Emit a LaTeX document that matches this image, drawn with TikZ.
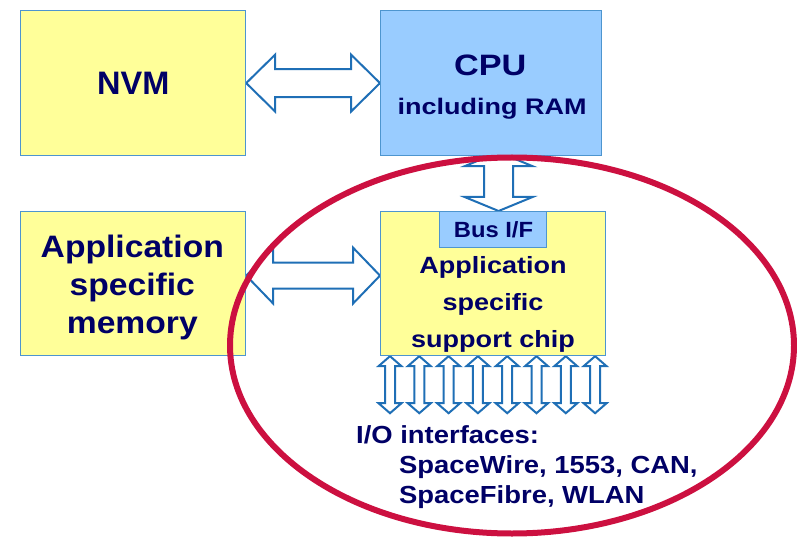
\documentclass[tikz,border=0pt]{standalone}
\usepackage{fontspec}
\setmainfont{Liberation Sans}
\usetikzlibrary{calc,backgrounds}

\definecolor{boxyellow}{HTML}{FFFF99}
\definecolor{boxblue}{HTML}{99CCFF}
\definecolor{edgeblue}{HTML}{4D95CF}
\definecolor{arrowblue}{HTML}{1F6FB6}
\definecolor{ringred}{HTML}{CC1040}
\definecolor{ink}{HTML}{000066}

% bold label font: size, line distance, horizontal stretch
\newcommand\lblfont[3]{\bfseries\fontsize{#1bp}{#2bp}\selectfont\addfontfeatures{FakeStretch=#3}}

% outlined horizontal double arrow: left tip, right tip, shaft half width, head half width, head length
\newcommand\fatH[5]{%
  \draw[fatarrow] (#1) -- ($(#1)+(#5,-#4)$) -- ($(#1)+(#5,-#3)$) -- ($(#2)+(-#5,-#3)$)
    -- ($(#2)+(-#5,-#4)$) -- (#2) -- ($(#2)+(-#5,#4)$) -- ($(#2)+(-#5,#3)$)
    -- ($(#1)+(#5,#3)$) -- ($(#1)+(#5,#4)$) -- cycle;}
% outlined vertical double arrow: top tip, bottom tip, shaft half width, head half width, head length
\newcommand\fatV[5]{%
  \draw[fatarrow] (#1) -- ($(#1)+(-#4,#5)$) -- ($(#1)+(-#3,#5)$) -- ($(#2)+(-#3,-#5)$)
    -- ($(#2)+(-#4,-#5)$) -- (#2) -- ($(#2)+(#4,-#5)$) -- ($(#2)+(#3,-#5)$)
    -- ($(#1)+(#3,#5)$) -- ($(#1)+(#4,#5)$) -- cycle;}

\begin{document}
\begin{tikzpicture}[x=1bp,y=-1bp,
  block/.style={draw=edgeblue,line width=1.2bp,inner sep=0pt,anchor=north west},
  words/.style={text=ink,inner sep=0pt,align=center,anchor=base},
  fatarrow/.style={draw=arrowblue,fill=white,line width=2bp,line join=miter,miter limit=10}]
\useasboundingbox (0,0) rectangle (797,541);

% blocks
\node[block,fill=boxyellow,minimum width=225bp,minimum height=145bp] (nvm) at (20,10) {};
\node[block,fill=boxblue,minimum width=221bp,minimum height=145bp] (cpu) at (380,10) {};
\node[block,fill=boxyellow,minimum width=225bp,minimum height=144bp] (mem) at (20,211) {};
\node[block,fill=boxyellow,minimum width=225bp,minimum height=144bp] (chip) at (380,211) {};
\node[block,fill=boxblue,minimum width=107bp,minimum height=36bp] (bus) at (439,211) {};

% labels (multi-line labels are placed by the baseline of their last line)
\node[words,font=\lblfont{32.5}{32.5}{1}] (nvmlabel) at ($(nvm.north west)+(113.3,85)$) {NVM};
\node[words,font=\lblfont{29.5}{29.5}{1.16}] (cputitle) at ($(cpu.north west)+(110.3,66)$) {CPU};
\node[words,font=\lblfont{22.5}{22.5}{1.2}] (cpuram) at ($(cpu.north west)+(112,105)$) {including RAM};
\node[words,font=\lblfont{31}{38}{1.085}] (memlabel) at ($(mem.north west)+(112.3,122.3)$)
  {Application\\specific\\memory};
\node[words,font=\lblfont{23.5}{36.5}{1.15}] (chiplabel) at ($(chip.north west)+(113,136)$)
  {Application\\specific\\support chip};
\node[words,font=\lblfont{22}{22}{1.08}] (buslabel) at ($(bus.north west)+(54.5,26.3)$) {Bus I/F};
\node[words,align=left,anchor=base west,font=\lblfont{24.7}{30}{1.11}] (iolabel)
  at ($(chip.south west)+(-24,147.7)$)
  {I/O interfaces:\\\hspace*{43bp}SpaceWire, 1553, CAN,\\\hspace*{43bp}SpaceFibre, WLAN};

% connectors, behind the blocks
\begin{scope}[on background layer]
  \fatH{nvm.east}{cpu.west}{14}{28.5}{29}
  \coordinate (ml) at ($(mem.east)+(0,-8)$);
  \coordinate (mr) at ($(chip.west)+(0,-8)$);
  \fatH{ml}{mr}{13}{28}{27}
  \coordinate (vb) at ($(bus.north)+(5.5,0)$);
  \coordinate (vt) at ($(vb |- cpu.south)+(0,-4)$);
  \fatV{vt}{vb}{14.5}{34}{14}
  \foreach \k in {0,...,7} {
    \coordinate (ioT\k) at ($(chip.south west)+(10+29.3*\k,0)$);
    \coordinate (ioB\k) at ($(ioT\k)+(0,57)$);
    \fatV{ioT\k}{ioB\k}{5}{11.5}{10}
  }
\end{scope}

% highlight ring
\coordinate (ringc) at (512,345.5);
\draw[ringred,line width=6bp] (ringc) ellipse [x radius=282,y radius=188];
\end{tikzpicture}
\end{document}
